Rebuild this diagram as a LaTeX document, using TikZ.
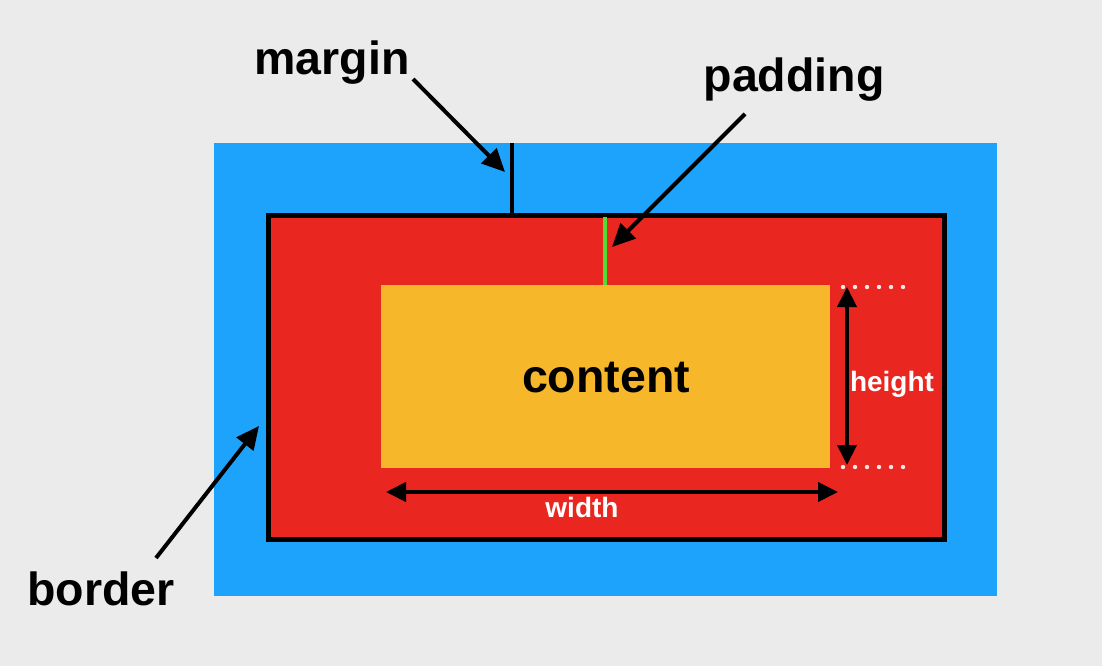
\documentclass[tikz,border=0pt]{standalone}
\usepackage{fontspec}
\setmainfont{Liberation Sans}
\usetikzlibrary{arrows.meta}
\definecolor{bggray}{RGB}{235,235,235}
\definecolor{marginblue}{RGB}{30,163,252}
\definecolor{borderred}{RGB}{233,38,31}
\definecolor{contentorange}{RGB}{247,183,43}
\definecolor{padgreen}{RGB}{80,220,50}
\begin{document}
\begin{tikzpicture}[x=1pt,y=-1pt,
  pointer/.style={line width=4pt,-{Triangle[length=23pt,width=21pt]}},
  dimline/.style={line width=4pt,{Triangle[length=20pt,width=19pt]}-{Triangle[length=20pt,width=19pt]}},
  biglabel/.style={inner sep=0pt,anchor=base,font=\fontsize{46.5}{50}\selectfont\bfseries},
  dimlabel/.style={inner sep=0pt,anchor=base,text=white,font=\fontsize{28}{32}\selectfont\bfseries}]
% page and boxes
\fill[bggray] (0,0) rectangle (1102,666);
\fill[marginblue] (214,143) rectangle (997,596);
\draw[line width=5pt,fill=borderred] (268,215) rectangle (944,539);
\fill[contentorange] (381,285) rectangle (830,468);
\node[biglabel] (content) at (606,392) {content};

% margin and padding marks
\draw[line width=4pt] (512,143) -- (512,213);
\draw[padgreen,line width=4pt] (605,217) -- (605,285);

% dimension guides
\foreach \x in {843,855,...,903} {
  \fill[white!90!red] (\x,287) circle (2.2pt);
  \fill[white!90!red] (\x,467) circle (2.2pt);
}
\coordinate (htop) at (847,287);
\coordinate (hbot) at (847,465);
\draw[dimline] (htop) -- (hbot);
\node[dimlabel] (height) at (892,391) {height};

\coordinate (wleft) at (386,492);
\coordinate (wright) at (838,492);
\draw[dimline] (wleft) -- (wright);
\node[dimlabel] (width) at (582,517) {width};

% labels with pointers
\node[biglabel] (margin) at (332,75) {margin};
\coordinate (margintail) at (413,79);
\coordinate (margintip) at (505,172);
\draw[pointer] (margintail) -- (margintip);

\node[biglabel] (padding) at (794,92) {padding};
\coordinate (paddingtail) at (745,114);
\coordinate (paddingtip) at (612,247);
\draw[pointer] (paddingtail) -- (paddingtip);

\node[biglabel] (border) at (101,605) {border};
\coordinate (bordertail) at (156,558);
\coordinate (bordertip) at (259,426);
\draw[pointer] (bordertail) -- (bordertip);
\end{tikzpicture}
\end{document}
